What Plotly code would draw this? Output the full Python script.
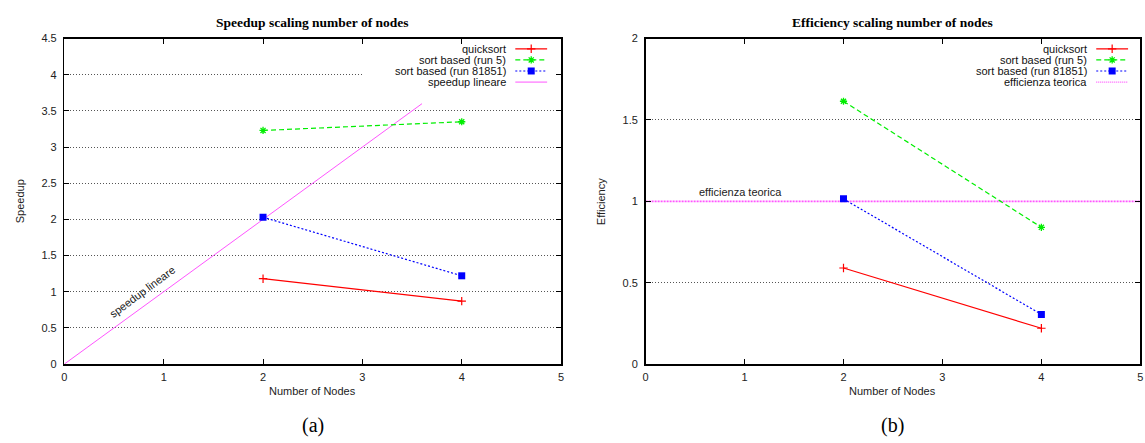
import plotly.graph_objects as go

# ---------------- data ----------------
nodes = [2, 4]
speedup_quicksort = [1.18, 0.87]
speedup_run5 = [3.23, 3.35]
speedup_run81851 = [2.03, 1.22]
linear_x = [0, 3.6]
linear_speedup = [0, 3.6]

eff_quicksort = [0.59, 0.22]
eff_run5 = [1.615, 0.84]
eff_run81851 = [1.015, 0.305]
theory_x = [0, 5]
theory_eff = [1, 1]

x_ticks = [0, 1, 2, 3, 4, 5]
speedup_ticks = [0, 0.5, 1, 1.5, 2, 2.5, 3, 3.5, 4, 4.5]
eff_ticks = [0, 0.5, 1, 1.5, 2]

W, H = 1145, 443
SANS = "Liberation Sans, Arial, Helvetica, sans-serif"
SERIF = "Liberation Serif, Times New Roman, serif"

RED = "#ff0000"
GREEN = "#00ee00"
BLUE = "#0000ff"
MAG = "#ff55ff"
GRID_DASH = "1px,2px"


def px(x):
    return x / W


def py(y):
    return 1 - y / H


# plot areas in pixels
L_X0, L_X1 = 61.7, 561.0
R_X0, R_X1 = 646.0, 1143.3
Y_TOP, Y_BOT = 33.5, 368.0

fig = go.Figure()

styles = {
    "quicksort": dict(color=RED, dash="solid", symbol="cross-thin-open", size=6, mlw=1.2),
    "run5": dict(color=GREEN, dash="5px,3px", symbol="asterisk-open", size=6, mlw=1.3),
    "run81851": dict(color=BLUE, dash="2px,2px", symbol="square", size=7, mlw=0),
}


def data_trace(x, y, key, xa, ya):
    s = styles[key]
    return go.Scatter(
        x=x, y=y, xaxis=xa, yaxis=ya, mode="lines+markers", showlegend=False,
        line=dict(color=s["color"], width=1.2, dash=s["dash"]),
        marker=dict(symbol=s["symbol"], size=s["size"], color=s["color"],
                    line=dict(color=s["color"], width=s["mlw"])),
        hoverinfo="skip",
    )


# left plot
fig.add_trace(go.Scatter(x=linear_x, y=linear_speedup, xaxis="x", yaxis="y", mode="lines",
                         line=dict(color=MAG, width=1), showlegend=False, hoverinfo="skip"))
fig.add_trace(data_trace(nodes, speedup_quicksort, "quicksort", "x", "y"))
fig.add_trace(data_trace(nodes, speedup_run5, "run5", "x", "y"))
fig.add_trace(data_trace(nodes, speedup_run81851, "run81851", "x", "y"))

# right plot
fig.add_trace(go.Scatter(x=theory_x, y=theory_eff, xaxis="x2", yaxis="y2", mode="lines",
                         line=dict(color=MAG, width=1.8, dash="2px,1px"), showlegend=False,
                         hoverinfo="skip"))
fig.add_trace(data_trace(nodes, eff_quicksort, "quicksort", "x2", "y2"))
fig.add_trace(data_trace(nodes, eff_run5, "run5", "x2", "y2"))
fig.add_trace(data_trace(nodes, eff_run81851, "run81851", "x2", "y2"))

# ---------------- manual gnuplot-style keys ----------------
left_keys = [("quicksort", "quicksort"), ("sort based (run 5)", "run5"),
             ("sort based (run 81851)", "run81851"), ("speedup lineare", "linear")]
right_keys = [("quicksort", "quicksort"), ("sort based (run 5)", "run5"),
              ("sort based (run 81851)", "run81851"), ("efficienza teorica", "theory")]
key_rows = [44.0, 55.4, 66.8, 78.2]

annotations = []


def add_key(keys, text_right, sample_x0, sample_x1):
    for (label, key), yrow in zip(keys, key_rows):
        annotations.append(dict(xref="paper", yref="paper", x=px(text_right), y=py(yrow),
                                text=label, showarrow=False, xanchor="right", yanchor="middle",
                                font=dict(family=SANS, size=11, color="#111")))
        if key == "linear":
            line = dict(color=MAG, width=1)
        elif key == "theory":
            line = dict(color=MAG, width=1.2, dash="1px,1px")
        else:
            s = styles[key]
            line = dict(color=s["color"], width=1.2, dash=s["dash"])
        fig.add_trace(go.Scatter(x=[sample_x0, sample_x1], y=[yrow, yrow], xaxis="x3", yaxis="y3",
                                 mode="lines", line=line, showlegend=False, hoverinfo="skip"))
        if key in styles:
            s = styles[key]
            fig.add_trace(go.Scatter(x=[(sample_x0 + sample_x1) / 2], y=[yrow], xaxis="x3",
                                     yaxis="y3", mode="markers", showlegend=False, hoverinfo="skip",
                                     marker=dict(symbol=s["symbol"], size=s["size"], color=s["color"],
                                                 line=dict(color=s["color"], width=s["mlw"]))))


add_key(left_keys, 508, 515, 547)
add_key(right_keys, 1092, 1099, 1131)

# titles / labels
annotations += [
    dict(xref="paper", yref="paper", x=px((L_X0 + L_X1) / 2), y=py(17),
         text="<b>Speedup scaling number of nodes</b>", showarrow=False,
         font=dict(family=SERIF, size=13.5, color="#000"), xanchor="center", yanchor="middle"),
    dict(xref="paper", yref="paper", x=px((R_X0 + R_X1) / 2), y=py(17),
         text="<b>Efficiency scaling number of nodes</b>", showarrow=False,
         font=dict(family=SERIF, size=13.5, color="#000"), xanchor="center", yanchor="middle"),
    dict(xref="paper", yref="paper", x=px((L_X0 + L_X1) / 2), y=py(396),
         text="Number of Nodes", showarrow=False,
         font=dict(family=SANS, size=11, color="#222"), xanchor="center", yanchor="middle"),
    dict(xref="paper", yref="paper", x=px((R_X0 + R_X1) / 2), y=py(396),
         text="Number of Nodes", showarrow=False,
         font=dict(family=SANS, size=11, color="#222"), xanchor="center", yanchor="middle"),
    dict(xref="paper", yref="paper", x=px(17), y=py((Y_TOP + Y_BOT) / 2),
         text="Speedup", showarrow=False, textangle=-90,
         font=dict(family=SANS, size=11, color="#222"), xanchor="center", yanchor="middle"),
    dict(xref="paper", yref="paper", x=px(601), y=py((Y_TOP + Y_BOT) / 2),
         text="Efficiency", showarrow=False, textangle=-90,
         font=dict(family=SANS, size=11, color="#222"), xanchor="center", yanchor="middle"),
    dict(xref="paper", yref="paper", x=px((L_X0 + L_X1) / 2), y=py(431),
         text="(a)", showarrow=False,
         font=dict(family=SERIF, size=20, color="#000"), xanchor="center", yanchor="middle"),
    dict(xref="paper", yref="paper", x=px((R_X0 + R_X1) / 2), y=py(431),
         text="(b)", showarrow=False,
         font=dict(family=SERIF, size=20, color="#000"), xanchor="center", yanchor="middle"),
    dict(xref="x", yref="y", x=0.78, y=1.0, text="speedup lineare", showarrow=False,
         textangle=-36.6, font=dict(family=SANS, size=11, color="#222"),
         xanchor="center", yanchor="middle"),
    dict(xref="x2", yref="y2", x=0.52, y=1.055, text="efficienza teorica", showarrow=False,
         font=dict(family=SANS, size=11, color="#222"), xanchor="left", yanchor="middle"),
]

axis_common = dict(
    showline=True, linecolor="#000", linewidth=1.5, mirror="ticks",
    ticks="inside", ticklen=5, tickwidth=1, tickcolor="#000",
    tickfont=dict(family=SANS, size=11, color="#222"),
    zeroline=False, fixedrange=True,
)

fig.update_layout(
    width=W, height=H,
    margin=dict(l=0, r=0, t=0, b=0),
    paper_bgcolor="white", plot_bgcolor="rgba(0,0,0,0)",
    showlegend=False,
    xaxis=dict(domain=[px(L_X0), px(L_X1)], range=[0, 5], tickvals=x_ticks, anchor="y",
               showgrid=False, ticklabelstandoff=2, **axis_common),
    yaxis=dict(domain=[py(Y_BOT), py(Y_TOP)], range=[0, 4.5], tickvals=speedup_ticks,
               ticktext=[f"{v:g}" for v in speedup_ticks], anchor="x",
               showgrid=True, gridcolor="#555", griddash=GRID_DASH, gridwidth=1,
               ticklabelstandoff=4, **axis_common),
    xaxis2=dict(domain=[px(R_X0), px(R_X1)], range=[0, 5], tickvals=x_ticks, anchor="y2",
                showgrid=False, ticklabelstandoff=2, **axis_common),
    yaxis2=dict(domain=[py(Y_BOT), py(Y_TOP)], range=[0, 2], tickvals=eff_ticks,
                ticktext=[f"{v:g}" for v in eff_ticks], anchor="x2",
                showgrid=True, gridcolor="#555", griddash=GRID_DASH, gridwidth=1,
                ticklabelstandoff=4, **axis_common),
    xaxis3=dict(domain=[0, 1], range=[0, W], visible=False, anchor="y3", fixedrange=True),
    yaxis3=dict(domain=[0, 1], range=[H, 0], visible=False, anchor="x3", fixedrange=True),
    annotations=annotations,
    shapes=[
        dict(type="rect", xref="x", yref="y", x0=3.0, x1=4.98, y0=3.8, y1=4.47,
             fillcolor="white", line=dict(width=0), layer="between"),
    ],
)

fig.write_html(
    "out.html",
    config={"displayModeBar": False, "staticPlot": True},
    post_script="document.body.style.margin='0';document.body.style.overflow='hidden';",
)
